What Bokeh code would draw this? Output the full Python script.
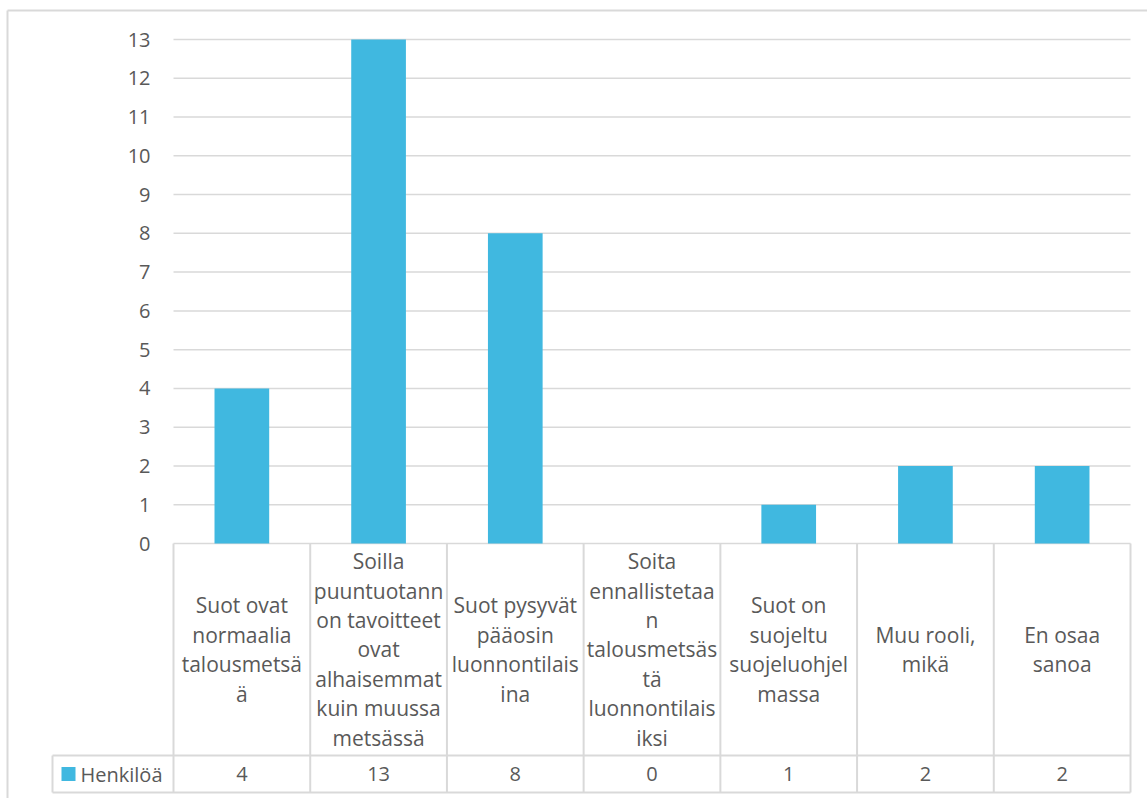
from bokeh.plotting import figure
from bokeh.models import Range1d, FixedTicker
from bokeh.core.properties import value
from bokeh.embed import file_html
from bokeh.resources import INLINE

# ---- data ----
categories = [
    "Suot ovat\nnormaalia\ntalousmetsä\nä",
    "Soilla\npuuntuotann\non tavoitteet\novat\nalhaisemmat\nkuin muussa\nmetsässä",
    "Suot pysyvät\npääosin\nluonnontilais\nina",
    "Soita\nennallistetaa\nn\ntalousmetsäs\ntä\nluonnontilais\niksi",
    "Suot on\nsuojeltu\nsuojeluohjel\nmassa",
    "Muu rooli,\nmikä",
    "En osaa\nsanoa",
]
values = [4, 13, 8, 0, 1, 2, 2]
series_name = "Henkilöä"
y_ticks = list(range(0, 14))

# ---- layout (pixels) ----
W, H = 1147, 798
PX_LEFT, PX_RIGHT = 173, 1130      # plot area horizontal extent
PX_ZERO, PX_TOP = 543, 39          # y=0 and y=13 positions
PX_ROW1, PX_ROW2 = 755, 792        # table row bottoms
PX_LEG_LEFT = 52
PX_BORDER_L, PX_BORDER_T = 7, 10

n = len(categories)
ppx = (PX_RIGHT - PX_LEFT) / n
ppy = (PX_ZERO - PX_TOP) / max(y_ticks)


def X(px):
    return (px - PX_LEFT) / ppx


def Y(py):
    return (PX_ZERO - py) / ppy


FONT = value("Open Sans")
TXT = "#595959"
GRID = "#d9d9d9"
BAR = "#40B8E0"

p = figure(width=W, height=H, output_backend="svg", toolbar_location=None,
           x_range=Range1d(X(0), X(W)), y_range=Range1d(Y(H), Y(0)),
           min_border=0, outline_line_color=None)
p.xaxis.visible = False
p.xgrid.visible = False
p.ygrid.visible = False

ax = p.yaxis[0]
ax.fixed_location = 0
ax.ticker = FixedTicker(ticks=y_ticks)
ax.axis_line_color = None
ax.major_tick_line_color = None
ax.minor_tick_line_color = None
ax.major_tick_out = 0
ax.major_tick_in = 0
ax.major_label_standoff = 23
ax.major_label_text_font = "Open Sans"
ax.major_label_text_font_size = "20px"
ax.major_label_text_color = TXT

# outer border
p.segment(x0=[X(PX_BORDER_L), X(PX_BORDER_L)], y0=[Y(PX_BORDER_T), Y(PX_BORDER_T)],
          x1=[X(PX_BORDER_L), X(W + 5)], y1=[Y(H + 5), Y(PX_BORDER_T)],
          line_color=GRID, line_width=2)

# gridlines
p.segment(x0=[0] * len(y_ticks), x1=[n] * len(y_ticks), y0=y_ticks, y1=y_ticks,
          line_color=GRID, line_width=1.5)

# bars
xs = [i + 0.5 for i in range(n)]
p.vbar(x=xs, top=values, bottom=0, width=0.4, fill_color=BAR, line_color=None)

# data table lines
p.segment(x0=list(range(n + 1)), x1=list(range(n + 1)),
          y0=[0] * (n + 1), y1=[Y(PX_ROW2)] * (n + 1), line_color=GRID, line_width=2)
p.segment(x0=[X(PX_LEG_LEFT)] * 2 + [X(PX_LEG_LEFT)], x1=[n, n, X(PX_LEG_LEFT)],
          y0=[Y(PX_ROW1), Y(PX_ROW2), Y(PX_ROW1)], y1=[Y(PX_ROW1), Y(PX_ROW2), Y(PX_ROW2)],
          line_color=GRID, line_width=2)

# category labels
p.text(x=xs, y=[Y((PX_ZERO + PX_ROW1) / 2)] * n, text=categories,
       text_font=FONT, text_font_size="21px", text_color=TXT,
       text_align="center", text_baseline="middle", text_line_height=1.05)

# values row
p.text(x=xs, y=[Y((PX_ROW1 + PX_ROW2) / 2)] * n, text=[str(v) for v in values],
       text_font=FONT, text_font_size="20px", text_color=TXT,
       text_align="center", text_baseline="middle")

# legend key
p.scatter(x=[X(68)], y=[Y((PX_ROW1 + PX_ROW2) / 2)], marker="square", size=14,
          fill_color=BAR, line_color=None)
p.text(x=[X(80)], y=[Y((PX_ROW1 + PX_ROW2) / 2)], text=[series_name],
       text_font=FONT, text_font_size="20px", text_color=TXT,
       text_align="left", text_baseline="middle")

open("out.html", "w").write(file_html(p, INLINE))
